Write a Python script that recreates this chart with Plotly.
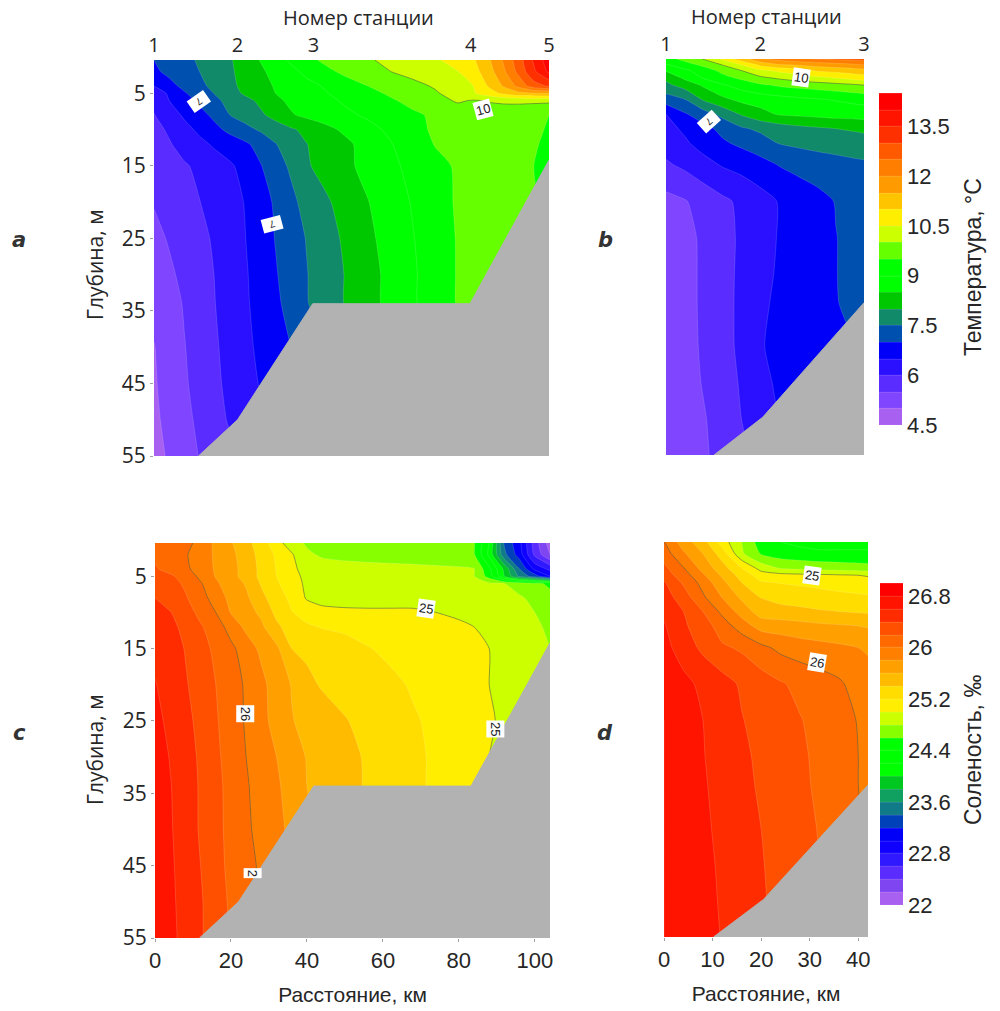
import plotly.graph_objects as go

# ------------ values -------------------------------------
x_long = [0, 4, 8, 12, 16, 20, 24, 28, 32, 36, 40, 44, 50, 56, 62, 68, 74, 80, 84, 88, 92, 96, 100, 104]
x_short = [0, 4, 8, 12, 16, 20, 24, 28, 32, 36, 40, 42]

depth_a = [0.4, 2, 4, 5, 6, 8, 10, 12, 15, 20, 25, 30, 34, 40, 45, 50, 55]
temp_a = [
    [7.0, 7.18, 7.37, 7.56, 7.76, 7.95, 8.24, 8.52, 8.8, 9.07, 9.34, 9.55, 9.75, 9.94, 10.11, 10.27, 10.43, 10.7, 10.93, 11.4, 12.05, 12.77, 13.57, 14.3],
    [6.9, 7.13, 7.32, 7.5, 7.71, 7.93, 8.17, 8.42, 8.65, 8.87, 9.1, 9.32, 9.6, 9.79, 9.99, 10.16, 10.33, 10.49, 10.8, 11.26, 11.9, 12.65, 13.4, 14.1],
    [6.5, 6.83, 7.13, 7.38, 7.63, 7.89, 8.12, 8.34, 8.54, 8.7, 8.86, 9.0, 9.25, 9.49, 9.67, 9.85, 10.05, 10.3, 10.49, 11.03, 11.54, 12.13, 12.78, 13.05],
    [6.3, 6.55, 6.95, 7.24, 7.52, 7.8, 8.07, 8.28, 8.5, 8.65, 8.79, 8.93, 9.14, 9.35, 9.56, 9.75, 9.94, 10.22, 10.44, 10.75, 11.1, 11.35, 11.45, 11.5],
    [6.1, 6.5, 6.8, 7.11, 7.4, 7.64, 7.86, 8.1, 8.4, 8.59, 8.72, 8.85, 9.05, 9.24, 9.43, 9.64, 9.85, 10.05, 9.97, 10.02, 10.06, 10.08, 10.09, 10.1],
    [5.98, 6.28, 6.57, 6.83, 7.12, 7.5, 7.7, 7.91, 8.17, 8.45, 8.6, 8.72, 8.9, 9.06, 9.24, 9.41, 9.58, 9.75, 9.9, 9.85, 9.8, 9.75, 9.65, 9.5],
    [5.85, 6.07, 6.35, 6.6, 6.87, 7.12, 7.35, 7.56, 7.74, 7.93, 8.11, 8.3, 8.58, 8.84, 9.08, 9.33, 9.58, 9.65, 9.67, 9.68, 9.68, 9.65, 9.6, 9.45],
    [5.77, 5.96, 6.18, 6.38, 6.57, 6.75, 6.92, 7.17, 7.48, 7.72, 7.98, 8.16, 8.37, 8.68, 8.96, 9.24, 9.52, 9.6, 9.62, 9.63, 9.63, 9.6, 9.55, 9.4],
    [5.68, 5.82, 5.95, 6.1, 6.27, 6.43, 6.67, 6.97, 7.27, 7.58, 7.93, 8.13, 8.38, 8.63, 8.88, 9.13, 9.38, 9.55, 9.56, 9.56, 9.56, 9.53, 9.5, 9.3],
    [5.53, 5.68, 5.83, 5.99, 6.17, 6.34, 6.52, 6.78, 7.07, 7.36, 7.67, 7.86, 8.18, 8.47, 8.75, 9.03, 9.32, 9.55, 9.55, 9.55, 9.55, 9.55, 9.52, 9.45],
    [5.37, 5.54, 5.71, 5.88, 6.06, 6.28, 6.49, 6.76, 7.02, 7.27, 7.51, 7.73, 8.06, 8.38, 8.68, 8.97, 9.27, 9.53, 9.55, 9.55, 9.55, 9.55, 9.55, 9.5],
    [5.26, 5.42, 5.61, 5.81, 6.01, 6.22, 6.45, 6.7, 6.96, 7.22, 7.47, 7.69, 8.0, 8.31, 8.62, 8.93, 9.24, 9.53, 9.55, 9.55, 9.55, 9.55, 9.55, 9.5],
    [5.14, 5.3, 5.54, 5.75, 5.99, 6.2, 6.43, 6.67, 6.91, 7.15, 7.46, 7.68, 8.0, 8.31, 8.62, 8.93, 9.24, 9.53, 9.55, 9.55, 9.55, 9.55, 9.55, 9.5],
    [4.98, 5.24, 5.48, 5.71, 5.94, 6.16, 6.38, 6.6, 6.8, 7.0, 7.2, 7.4, 7.7, 8.0, 8.3, 8.6, 8.9, 9.2, 9.3, 9.3, 9.3, 9.3, 9.3, 9.3],
    [4.95, 5.19, 5.44, 5.67, 5.9, 6.12, 6.32, 6.53, 6.7, 6.9, 7.1, 7.3, 7.6, 7.9, 8.2, 8.5, 8.8, 9.1, 9.2, 9.2, 9.2, 9.2, 9.2, 9.2],
    [4.9, 5.14, 5.37, 5.6, 5.84, 6.05, 6.2, 6.4, 6.6, 6.8, 7.0, 7.2, 7.5, 7.8, 8.1, 8.4, 8.7, 9.0, 9.1, 9.1, 9.1, 9.1, 9.1, 9.1],
    [4.83, 5.06, 5.29, 5.52, 5.75, 5.9, 6.1, 6.3, 6.5, 6.7, 6.9, 7.1, 7.4, 7.7, 8.0, 8.3, 8.6, 8.9, 9.0, 9.0, 9.0, 9.0, 9.0, 9.0],
]

depth_b = [0.4, 1.1, 2, 3, 4, 6, 8, 10, 12, 15, 20, 25, 30, 34, 40, 45, 50, 55]
temp_b = [
    [9.3, 9.66, 10.03, 10.6, 11.27, 11.92, 12.2, 12.4, 12.55, 12.6, 12.65, 12.7],
    [9.0, 9.33, 9.68, 10.07, 10.58, 11.2, 11.55, 11.65, 11.77, 11.9, 12.02, 12.1],
    [8.55, 8.9, 9.25, 9.64, 10.0, 10.4, 10.6, 10.8, 11.05, 11.15, 11.25, 11.3],
    [8.1, 8.6, 9.05, 9.35, 9.6, 9.9, 10.08, 10.24, 10.38, 10.52, 10.7, 10.75],
    [7.88, 8.2, 8.58, 8.95, 9.2, 9.42, 9.58, 9.68, 9.76, 9.84, 9.93, 10.0],
    [7.25, 7.48, 8.05, 8.38, 8.62, 8.72, 8.8, 8.88, 8.95, 9.03, 9.12, 9.15],
    [6.5, 6.95, 7.28, 7.65, 8.05, 8.33, 8.55, 8.6, 8.65, 8.7, 8.72, 8.75],
    [6.35, 6.58, 6.85, 7.13, 7.43, 7.6, 7.73, 7.85, 7.93, 8.0, 8.05, 8.08],
    [6.2, 6.43, 6.69, 6.93, 7.1, 7.27, 7.52, 7.6, 7.67, 7.73, 7.8, 7.83],
    [5.93, 6.1, 6.33, 6.54, 6.66, 6.83, 7.02, 7.14, 7.23, 7.3, 7.37, 7.4],
    [5.35, 5.47, 5.68, 5.9, 6.1, 6.3, 6.53, 6.7, 6.85, 7.02, 7.1, 7.13],
    [5.2, 5.32, 5.61, 5.83, 6.08, 6.32, 6.53, 6.69, 6.84, 6.99, 7.1, 7.14],
    [5.15, 5.35, 5.58, 5.83, 6.1, 6.35, 6.56, 6.7, 6.85, 6.99, 7.1, 7.14],
    [5.13, 5.35, 5.58, 5.83, 6.11, 6.41, 6.59, 6.72, 6.86, 6.98, 7.1, 7.14],
    [5.1, 5.33, 5.57, 5.82, 6.11, 6.47, 6.6, 6.7, 6.8, 6.9, 7.0, 7.05],
    [5.08, 5.27, 5.54, 5.78, 6.05, 6.33, 6.6, 6.7, 6.8, 6.9, 7.0, 7.05],
    [5.05, 5.23, 5.46, 5.73, 6.0, 6.25, 6.5, 6.6, 6.7, 6.8, 6.9, 7.0],
    [5.0, 5.2, 5.43, 5.67, 5.9, 6.15, 6.4, 6.5, 6.6, 6.7, 6.8, 6.9],
]

depth_c = [0.4, 2, 4, 5, 6, 8, 10, 12, 15, 20, 25, 30, 34, 40, 45, 50, 55]
sal_c = [
    [26.15, 26.08, 26.04, 25.96, 25.75, 25.62, 25.46, 25.3, 25.07, 24.9, 24.77, 24.73, 24.7, 24.7, 24.68, 24.68, 24.66, 24.65, 24.62, 24.2, 23.37, 23.05, 22.5, 22.1],
    [26.17, 26.1, 26.02, 25.9, 25.77, 25.65, 25.5, 25.33, 25.17, 25.02, 24.84, 24.77, 24.74, 24.72, 24.71, 24.7, 24.68, 24.65, 24.62, 24.15, 23.45, 23.1, 22.55, 22.2],
    [26.22, 26.14, 26.05, 25.9, 25.78, 25.67, 25.52, 25.35, 25.19, 25.03, 24.95, 24.9, 24.88, 24.87, 24.86, 24.85, 24.84, 24.83, 24.81, 24.45, 23.95, 23.4, 22.95, 22.75],
    [26.3, 26.23, 26.13, 25.95, 25.79, 25.67, 25.52, 25.35, 25.2, 25.04, 24.97, 24.93, 24.9, 24.88, 24.87, 24.86, 24.85, 24.83, 24.81, 24.52, 24.0, 23.55, 23.3, 23.0],
    [26.35, 26.27, 26.17, 26.02, 25.83, 25.7, 25.58, 25.38, 25.23, 25.07, 24.97, 24.94, 24.92, 24.9, 24.89, 24.88, 24.87, 24.86, 24.85, 24.83, 24.8, 24.73, 24.66, 24.55],
    [26.4, 26.3, 26.22, 26.09, 25.9, 25.75, 25.64, 25.45, 25.3, 25.15, 24.98, 24.92, 24.88, 24.88, 24.88, 24.9, 24.92, 24.92, 24.92, 24.9, 24.87, 24.82, 24.76, 24.68],
    [26.45, 26.41, 26.28, 26.15, 26.0, 25.79, 25.68, 25.56, 25.35, 25.21, 25.12, 25.07, 25.06, 25.05, 25.05, 25.04, 25.0, 24.98, 24.96, 24.93, 24.9, 24.87, 24.8, 24.72],
    [26.52, 26.45, 26.35, 26.22, 26.11, 25.91, 25.76, 25.64, 25.44, 25.31, 25.23, 25.19, 25.16, 25.13, 25.1, 25.07, 25.05, 25.02, 25.0, 24.96, 24.93, 24.9, 24.85, 24.75],
    [26.55, 26.49, 26.39, 26.27, 26.16, 26.05, 25.89, 25.76, 25.64, 25.4, 25.36, 25.33, 25.28, 25.21, 25.16, 25.12, 25.08, 25.05, 25.02, 25.0, 24.97, 24.93, 24.88, 24.8],
    [26.61, 26.52, 26.42, 26.31, 26.2, 26.1, 25.97, 25.85, 25.71, 25.59, 25.45, 25.38, 25.34, 25.29, 25.24, 25.18, 25.13, 25.08, 25.04, 25.0, 24.97, 24.9, 24.85, 24.8],
    [26.66, 26.55, 26.45, 26.35, 26.22, 26.1, 25.98, 25.86, 25.73, 25.61, 25.55, 25.5, 25.41, 25.35, 25.28, 25.22, 25.16, 25.1, 25.06, 25.02, 24.97, 24.9, 24.85, 24.8],
    [26.7, 26.59, 26.48, 26.37, 26.24, 26.12, 26.0, 25.9, 25.8, 25.69, 25.59, 25.53, 25.45, 25.38, 25.31, 25.24, 25.17, 25.1, 25.06, 25.0, 24.97, 24.9, 24.85, 24.8],
    [26.72, 26.61, 26.49, 26.38, 26.26, 26.13, 26.02, 25.92, 25.83, 25.72, 25.6, 25.54, 25.46, 25.38, 25.31, 25.24, 25.17, 25.1, 25.06, 25.0, 24.97, 24.9, 24.85, 24.8],
    [26.74, 26.62, 26.5, 26.38, 26.26, 26.14, 26.04, 25.93, 25.86, 25.75, 25.65, 25.55, 25.45, 25.35, 25.3, 25.25, 25.2, 25.1, 25.05, 25.0, 24.95, 24.9, 24.85, 24.8],
    [26.75, 26.63, 26.52, 26.4, 26.27, 26.15, 26.06, 25.97, 25.88, 25.78, 25.68, 25.58, 25.45, 25.35, 25.3, 25.25, 25.2, 25.1, 25.05, 25.0, 24.95, 24.9, 24.85, 24.8],
    [26.76, 26.64, 26.53, 26.42, 26.29, 26.17, 26.08, 25.98, 25.9, 25.8, 25.7, 25.6, 25.5, 25.4, 25.3, 25.25, 25.2, 25.1, 25.05, 25.0, 24.95, 24.9, 24.85, 24.8],
    [26.77, 26.65, 26.54, 26.42, 26.3, 26.18, 26.1, 26.0, 25.9, 25.8, 25.7, 25.6, 25.5, 25.4, 25.3, 25.25, 25.2, 25.1, 25.05, 25.0, 24.95, 24.9, 24.85, 24.8],
]

depth_d = [0.4, 2, 4, 5, 6, 8, 10, 12, 15, 20, 25, 30, 34, 40, 45, 50, 55]
sal_d = [
    [26.01, 25.7, 25.48, 25.1, 24.8, 24.5, 24.4, 24.35, 24.3, 24.3, 24.3, 24.3],
    [26.1, 25.83, 25.6, 25.3, 24.83, 24.58, 24.5, 24.47, 24.45, 24.45, 24.45, 24.45],
    [26.25, 26.01, 25.73, 25.48, 25.2, 24.92, 24.78, 24.75, 24.72, 24.7, 24.68, 24.67],
    [26.3, 26.1, 25.83, 25.57, 25.32, 25.1, 25.07, 25.05, 25.04, 25.02, 25.0, 24.98],
    [26.42, 26.17, 25.93, 25.65, 25.4, 25.22, 25.19, 25.17, 25.15, 25.12, 25.1, 25.09],
    [26.49, 26.3, 26.03, 25.79, 25.56, 25.39, 25.33, 25.3, 25.27, 25.25, 25.23, 25.22],
    [26.56, 26.4, 26.2, 25.95, 25.72, 25.5, 25.47, 25.45, 25.42, 25.4, 25.38, 25.37],
    [26.62, 26.43, 26.3, 26.1, 25.9, 25.72, 25.7, 25.67, 25.64, 25.62, 25.6, 25.58],
    [26.67, 26.5, 26.36, 26.23, 26.17, 26.05, 25.95, 25.9, 25.87, 25.84, 25.8, 25.78],
    [26.73, 26.66, 26.55, 26.48, 26.37, 26.3, 26.22, 26.15, 26.09, 26.03, 25.92, 25.87],
    [26.8, 26.7, 26.6, 26.5, 26.41, 26.33, 26.27, 26.21, 26.14, 26.07, 25.99, 25.93],
    [26.8, 26.71, 26.61, 26.52, 26.44, 26.36, 26.3, 26.24, 26.15, 26.08, 26.0, 25.95],
    [26.8, 26.72, 26.62, 26.54, 26.46, 26.37, 26.31, 26.25, 26.16, 26.08, 26.0, 25.95],
    [26.8, 26.73, 26.64, 26.55, 26.48, 26.4, 26.33, 26.26, 26.19, 26.1, 26.02, 25.97],
    [26.8, 26.73, 26.65, 26.57, 26.5, 26.41, 26.35, 26.28, 26.2, 26.12, 26.04, 25.98],
    [26.8, 26.74, 26.66, 26.58, 26.5, 26.42, 26.35, 26.28, 26.2, 26.12, 26.04, 25.98],
    [26.8, 26.75, 26.68, 26.59, 26.5, 26.42, 26.35, 26.28, 26.2, 26.12, 26.04, 25.98],
]

# sea bed outline, km and m
bed_x_long = [11.7, 22, 41.8, 83.2, 104, 104]
bed_depth_long = [55, 50, 34, 34, 14.2, 55]
bed_x_short = [10.2, 20.5, 42, 42]
bed_depth_short = [55, 49.8, 34, 55]

stations_long = [0, 22, 42, 83.4, 104]
stations_long_text = ["1", "2", "3", "4", "5"]
stations_short = [0, 20, 42]
stations_short_text = ["1", "2", "3"]

temp_ticks = [4.5, 6, 7.5, 9, 10.5, 12, 13.5]
temp_tick_text = ["4.5", "6", "7.5", "9", "10.5", "12", "13.5"]
sal_ticks = [22, 22.8, 23.6, 24.4, 25.2, 26, 26.8]
sal_tick_text = ["22", "22.8", "23.6", "24.4", "25.2", "26", "26.8"]

depth_ticks = [5, 15, 25, 35, 45, 55]

temp_colors = ["#a860f0", "#7f45ff", "#5a2cff", "#2a10ff", "#0000f8", "#0050b0", "#108a68", "#00c800",
               "#00ff00", "#00ff00", "#66ff00", "#ccff00", "#ffee00", "#ffc400", "#ff9a00", "#ff7e00",
               "#ff5a00", "#ff3000", "#ff1400", "#ff0000"]
sal_colors = ["#a860f0", "#7f45f0", "#5a2cff", "#3018ff", "#1000ff", "#0000f8", "#0040b8", "#107a88",
              "#10a060", "#00c820", "#00ff00", "#00ff00", "#00ff00", "#88ff00", "#ccff00", "#ffee00",
              "#ffdd00", "#ffbb00", "#ffa000", "#ff8000", "#ff6a00", "#ff5000", "#ff2c00", "#ff1400",
              "#ff0000"]

GRAY = "#b2b2b2"
TEXT = "#262626"
SANS = "Liberation Sans"
OPEN = "Open Sans"
W, H = 1000, 1011


def band_scale(colors):
    # with zmin/zmax set, plotly samples each band at its middle over zmin..zmax
    n = len(colors)
    stops = [[0, colors[0]]]
    for k, c in enumerate(colors):
        stops.append([(k + 0.5) / n, c])
    stops.append([1, colors[-1]])
    return stops


def dom_x(left, right):
    return [left / W, right / W]


def dom_y(top, bottom):
    return [1 - bottom / H, 1 - top / H]


fig = go.Figure()


def add_panel(n, x, depth, z, colors, start, end, size, line_levels, bed_x, bed_depth, bar=None):
    ax = "" if n == 1 else str(n)
    fig.add_trace(go.Contour(
        x=x, y=depth, z=z, xaxis="x" + ax, yaxis="y" + ax,
        autocontour=False, zauto=False, zmin=start, zmax=end,
        contours=dict(start=start, end=end, size=size, coloring="fill", showlines=True),
        line=dict(width=0.5, color="rgba(255,255,255,0.3)", smoothing=0.6),
        colorscale=band_scale(colors),
        showscale=bar is not None,
        colorbar=bar,
        hoverinfo="skip",
    ))
    for level in line_levels:
        fig.add_trace(go.Contour(
            x=x, y=depth, z=z, xaxis="x" + ax, yaxis="y" + ax,
            autocontour=False,
            contours=dict(start=level, end=level, size=1, coloring="lines", showlabels=False),
            line=dict(width=0.5, smoothing=0.6),
            colorscale=[[0, "#30402a"], [1, "#30402a"]],
            showscale=False,
            hoverinfo="skip",
        ))
    fig.add_trace(go.Scatter(
        x=bed_x, y=bed_depth, xaxis="x" + ax, yaxis="y" + ax,
        mode="lines", fill="toself", fillcolor=GRAY,
        line=dict(color=GRAY, width=1), showlegend=False, hoverinfo="skip",
    ))


temp_bar = dict(
    x=879 / W, xanchor="left", y=1 - 425 / H, yanchor="bottom", xpad=0, ypad=0,
    len=332 / H, lenmode="fraction", thickness=23, thicknessmode="pixels",
    outlinewidth=0, ticks="", tickmode="array", tickvals=temp_ticks, ticktext=temp_tick_text,
    tickfont=dict(family=SANS, size=22, color=TEXT),
)
sal_bar = dict(
    x=880 / W, xanchor="left", y=1 - 905 / H, yanchor="bottom", xpad=0, ypad=0,
    len=322 / H, lenmode="fraction", thickness=23, thicknessmode="pixels",
    outlinewidth=0, ticks="", tickmode="array", tickvals=sal_ticks, ticktext=sal_tick_text,
    tickfont=dict(family=SANS, size=22, color=TEXT),
)

add_panel(1, x_long, depth_a, temp_a, temp_colors, 4.5, 14.5, 0.5, [10], bed_x_long, bed_depth_long)
add_panel(2, x_short, depth_b, temp_b, temp_colors, 4.5, 14.5, 0.5, [10], bed_x_short, bed_depth_short, temp_bar)
add_panel(3, x_long, depth_c, sal_c, sal_colors, 22, 27, 0.2, [25, 26], bed_x_long, bed_depth_long)
add_panel(4, x_short, depth_d, sal_d, sal_colors, 22, 27, 0.2, [25, 26], bed_x_short, bed_depth_short, sal_bar)

# ------------------------------- Axes ---------------------------
top_ticks = dict(side="top", ticks="", showgrid=False, zeroline=False, showline=False, automargin=False,
                 tickfont=dict(family=OPEN, size=20, color=TEXT), tickangle=0, ticklabelstandoff=3)
bottom_ticks = dict(side="bottom", ticks="outside", ticklen=3, tickcolor="#a0a0a0", showgrid=False, automargin=False,
                    zeroline=False, showline=False, tickfont=dict(family=SANS, size=22, color=TEXT))
left_ticks = dict(autorange=False, range=[55, 0.4], tickvals=depth_ticks, ticks="outside", ticklen=3, automargin=False,
                  tickcolor="#a0a0a0", showgrid=False, zeroline=False, showline=False,
                  tickfont=dict(family=OPEN, size=21, color=TEXT))
no_y = dict(range=[55, 0.4], showticklabels=False, ticks="", showgrid=False, zeroline=False, showline=False,
            automargin=False)

fig.update_layout(
    width=W, height=H, margin=dict(l=0, r=0, t=0, b=0, autoexpand=False),
    paper_bgcolor="white", plot_bgcolor="white", showlegend=False,
    xaxis=dict(domain=dom_x(154, 549), range=[0, 104], anchor="y", tickvals=stations_long, ticktext=stations_long_text, **top_ticks),
    yaxis=dict(domain=dom_y(60, 456), anchor="x", **left_ticks),
    xaxis2=dict(domain=dom_x(666, 864), range=[0, 42], anchor="y2", tickvals=stations_short, ticktext=stations_short_text, **top_ticks),
    yaxis2=dict(domain=dom_y(59, 455), anchor="x2", **no_y),
    xaxis3=dict(domain=dom_x(155, 550), range=[0, 104], anchor="y3", tickvals=[0, 20, 40, 60, 80, 100],
                title=dict(text="Расстояние, км", font=dict(family=SANS, size=21, color=TEXT), standoff=14), **bottom_ticks),
    yaxis3=dict(domain=dom_y(543, 938), anchor="x3", **left_ticks),
    xaxis4=dict(domain=dom_x(664, 868), range=[0, 42], anchor="y4", tickvals=[0, 10, 20, 30, 40],
                title=dict(text="Расстояние, км", font=dict(family=SANS, size=21, color=TEXT), standoff=14), **bottom_ticks),
    yaxis4=dict(domain=dom_y(542, 937), anchor="x4", **no_y),
)

# ------------------------ Line labels and panel letters ------------------
line_labels = [
    ("x", "y", 11.8, 6.2, "\u00a0\u00a07\u00a0\u00a0", 145, 10),
    ("x", "y", 31, 23, "\u00a0\u00a07\u00a0\u00a0", 165, 10),
    ("x", "y", 86.6, 7.2, "10", -15, 13),
    ("x2", "y2", 28.7, 3.0, "10", 8, 13),
    ("x2", "y2", 9.1, 9.1, "\u00a0\u00a07\u00a0\u00a0", 138, 10),
    ("x3", "y3", 71.3, 9.5, "25", 8, 13),
    ("x3", "y3", 23.7, 24, "26", 90, 13),
    ("x3", "y3", 89.5, 26.1, "25", 90, 13),
    ("x3", "y3", 25.6, 46, "2", 90, 13),
    ("x4", "y4", 30.5, 5, "25", 8, 13),
    ("x4", "y4", 31.5, 17.1, "26", 10, 13),
]
for xr, yr, xv, yv, text, angle, size in line_labels:
    fig.add_annotation(xref=xr, yref=yr, x=xv, y=yv, text=text, textangle=angle, showarrow=False,
                       font=dict(family=SANS, size=size, color="#222222"), bgcolor="white", borderpad=1)


def page_text(text, px, py, family, size, angle=0, color=TEXT):
    fig.add_annotation(xref="paper", yref="paper", x=px / W, y=1 - py / H, text=text, textangle=angle,
                       xanchor="center", yanchor="middle", showarrow=False,
                       font=dict(family=family, size=size, color=color))


panel_letters = [("a", 19, 240), ("b", 605, 240), ("c", 19, 733), ("d", 605, 733)]
for letter, px, py in panel_letters:
    page_text("<b><i>" + letter + "</i></b>", px, py, "DejaVu Sans", 21, color="#333333")

page_text("Глубина, м", 95, 265, OPEN, 21, -90)
page_text("Глубина, м", 95, 750, OPEN, 21, -90)
page_text("Номер станции", 358, 18, OPEN, 20)
page_text("Номер станции", 766, 17, OPEN, 20)
page_text("Температура, °C", 973, 267, SANS, 23, -90)
page_text("Соленость, ‰", 973, 750, SANS, 23, -90)

fig.write_html("out.html", config=dict(displayModeBar=False), post_script="document.body.style.margin='0';")
